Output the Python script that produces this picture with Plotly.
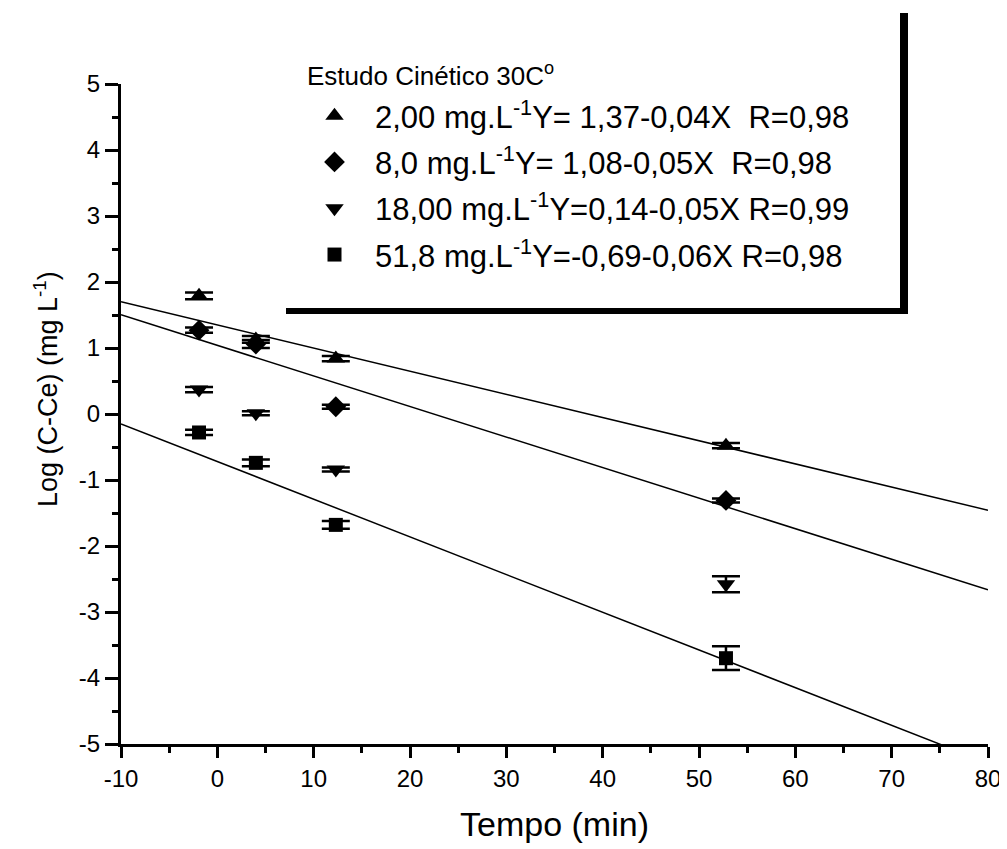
import plotly.graph_objects as go

# ---- data ----
tempo = [-1.9, 4.0, 12.3, 52.8]

names = [
    "2,00 mg.L<sup>-1</sup>Y= 1,37-0,04X\u00a0 R=0,98",
    "8,0 mg.L<sup>-1</sup>Y= 1,08-0,05X\u00a0 R=0,98",
    "18,00 mg.L<sup>-1</sup>Y=0,14-0,05X R=0,99",
    "51,8 mg.L<sup>-1</sup>Y=-0,69-0,06X R=0,98",
]
symbols = ["triangle-up", "diamond", "triangle-down", "square"]

y_2_00 = [1.79, 1.13, 0.84, -0.48]
y_8_0 = [1.27, 1.06, 0.11, -1.31]
y_18_00 = [0.37, 0.01, -0.84, -2.58]
y_51_8 = [-0.28, -0.74, -1.68, -3.70]

err_2_00 = [0.05, 0.05, 0.04, 0.04]
err_8_0 = [0.04, 0.06, 0.03, 0.03]
err_18_00 = [0.04, 0.03, 0.03, 0.12]
err_51_8 = [0.04, 0.05, 0.06, 0.18]

series_y = [y_2_00, y_8_0, y_18_00, y_51_8]
series_err = [err_2_00, err_8_0, err_18_00, err_51_8]

# fitted lines as drawn (intercept, slope) for the 2,00 / 8,0 / 51,8 series
fit_intercept = [1.35, 1.04, -0.72]
fit_slope = [-0.0351, -0.0463, -0.0571]
fit_x = [-10, 80]

x_ticks = [-10, 0, 10, 20, 30, 40, 50, 60, 70, 80]
x_tick_labels = ["-10", "0", "10", "20", "30", "40", "50", "60", "70", "80"]
y_ticks = [-5, -4, -3, -2, -1, 0, 1, 2, 3, 4, 5]
y_tick_labels = ["-5", "-4", "-3", "-2", "-1", "0", "1", "2", "3", "4", "5"]

legend_title = "Estudo Cinético 30C<sup>o</sup>"
y_title = "Log (C-Ce) (mg L<sup>-1</sup>)"
x_title = "Tempo (min)"

FONT = "Liberation Sans, Arial, sans-serif"

fig = go.Figure()

for b, m in zip(fit_intercept, fit_slope):
    fig.add_trace(go.Scatter(
        x=fit_x, y=[b + m * xv for xv in fit_x], mode="lines",
        line=dict(color="black", width=1.5), showlegend=False, hoverinfo="skip"))

for i, (nm, sym, ys, es) in enumerate(zip(names, symbols, series_y, series_err)):
    fig.add_trace(go.Scatter(
        x=tempo, y=ys, mode="markers", name=nm, legendgroup=str(i),
        marker=dict(symbol=sym, size=16 if sym != "square" else 14, color="black"),
        error_y=dict(type="data", array=es, visible=True, color="black",
                     thickness=2.5, width=14),
    ))

# plot area in screen pixels (page has a small body offset)
OFF = 7
L, R, T, B = 120, 987, 83, 743
W, H = 1007, 849


def px(xp):
    return (xp - L) / (R - L)


def py(yp):
    return (B - yp) / (B - T)


shapes = [
    dict(type="rect", xref="paper", yref="paper", x0=px(899), x1=px(907),
         y0=py(313), y1=py(12), fillcolor="black", line=dict(width=0)),
    dict(type="rect", xref="paper", yref="paper", x0=px(285), x1=px(907),
         y0=py(313), y1=py(307), fillcolor="black", line=dict(width=0)),
]

annotations = [
    dict(text=legend_title, xref="paper", yref="paper", x=px(304), y=py(73),
         xanchor="left", yanchor="middle", showarrow=False,
         font=dict(size=26, family=FONT, color="black")),
    dict(text=y_title, xref="paper", yref="paper", x=px(45), y=py(388),
         xanchor="center", yanchor="middle", showarrow=False, textangle=-90,
         font=dict(size=27, family=FONT, color="black")),
]

fig.update_layout(
    width=W, height=H,
    margin=dict(l=L - OFF, r=W - R + OFF, t=T - OFF, b=H - B + OFF),
    paper_bgcolor="white", plot_bgcolor="white",
    font=dict(family=FONT, color="black"),
    shapes=shapes, annotations=annotations,
    showlegend=True,
    legend=dict(
        font=dict(size=31), x=px(293), y=py(88), xanchor="left", yanchor="top",
        bgcolor="rgba(0,0,0,0)", tracegroupgap=3, itemwidth=71,
    ),
    xaxis=dict(
        range=[-10, 80], tickvals=x_ticks, ticktext=x_tick_labels,
        showgrid=False, zeroline=False,
        showline=True, linecolor="black", linewidth=3,
        ticks="outside", ticklen=11, tickwidth=3, tickcolor="black",
        minor=dict(dtick=5, ticks="outside", ticklen=6, tickwidth=2.5, tickcolor="black"),
        tickfont=dict(size=24),
        title=dict(text=x_title, font=dict(size=34), standoff=22),
    ),
    yaxis=dict(
        range=[-5, 5], tickvals=y_ticks, ticktext=y_tick_labels,
        showgrid=False, zeroline=False,
        showline=True, linecolor="black", linewidth=3,
        ticks="outside", ticklen=13, tickwidth=3, tickcolor="black",
        minor=dict(dtick=0.5, ticks="outside", ticklen=6, tickwidth=2.5, tickcolor="black"),
        tickfont=dict(size=24),
    ),
)

fig.write_html("out.html")
